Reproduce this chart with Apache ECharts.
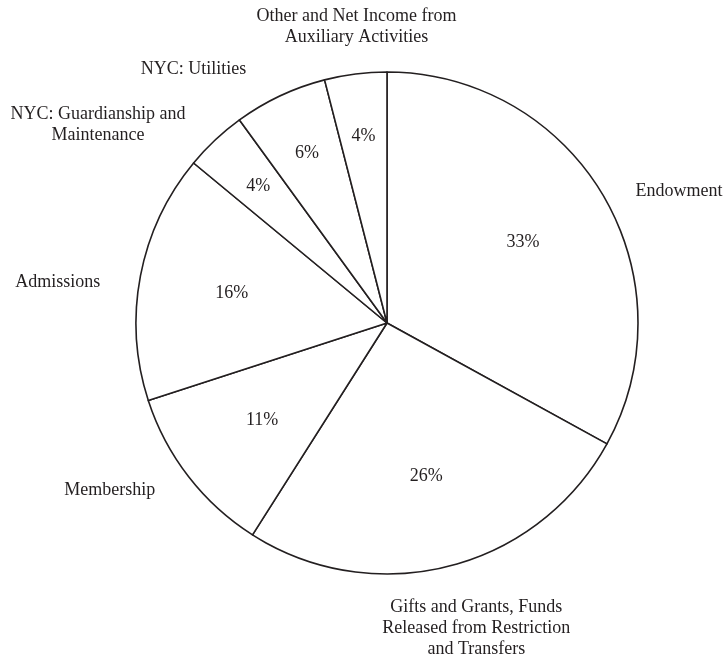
<!DOCTYPE html>
<html>
<head>
<meta charset="utf-8">
<script src="https://cdn.jsdelivr.net/npm/echarts@6/dist/echarts.min.js"></script>
<style>
  html, body { margin: 0; padding: 0; background: #fff; }
  #pie { width: 725px; height: 656px; }
</style>
</head>
<body>
<div id="pie"></div>
<script>
    // slices, clockwise from 12 o'clock
    var categories = [
        'Endowment',
        'Gifts and Grants, Funds\nReleased from Restriction\nand Transfers',
        'Membership',
        'Admissions',
        'NYC: Guardianship and\nMaintenance',
        'NYC: Utilities',
        'Other and Net Income from\nAuxiliary Activities'
    ];
    var shares = [33, 26, 11, 16, 4, 6, 4];

    // which percent labels sit further out (the narrow slices)
    var outerPct = [false, false, false, false, true, true, true];

    // nudges for the category labels, px
    var nameNudge = [[14, 33], [9, -8], [-22, -31], [-12, 20], [-68, 37], [-56, 39], [10, 24]];

    var ink = '#231f20';
    var font = '"Liberation Serif", "DejaVu Serif", serif';
    var cx = 387, cy = 323, R = 251;

    function items(showFn) {
        return categories.map(function (name, i) {
            return {
                name: name,
                value: shares[i],
                label: { show: showFn(i) }
            };
        });
    }

    var hidden = { color: 'transparent', borderWidth: 0 };

    var myChart = echarts.init(document.getElementById('pie'));
    var option = {
        animation: false,
        series: [
            {
                type: 'pie',
                center: [cx, cy],
                radius: [0, R],
                startAngle: 90,
                clockwise: true,
                silent: true,
                itemStyle: { color: '#ffffff', borderColor: ink, borderWidth: 1.6 },
                label: { show: false },
                labelLine: { show: false },
                data: items(function () { return false; })
            },
            {
                // percentages, wide slices
                type: 'pie',
                center: [cx, cy],
                radius: [0, 310],
                startAngle: 90,
                silent: true,
                itemStyle: hidden,
                label: {
                    position: 'inside',
                    formatter: '{c}%',
                    color: ink,
                    fontFamily: font,
                    fontSize: 18
                },
                labelLine: { show: false },
                data: items(function (i) { return !outerPct[i]; })
            },
            {
                // percentages, narrow slices
                type: 'pie',
                center: [cx, cy],
                radius: [0, 370],
                startAngle: 90,
                silent: true,
                itemStyle: hidden,
                label: {
                    position: 'inside',
                    formatter: '{c}%',
                    color: ink,
                    fontFamily: font,
                    fontSize: 18
                },
                labelLine: { show: false },
                data: items(function (i) { return outerPct[i]; })
            },
            {
                // category names around the outside
                type: 'pie',
                center: [cx, cy],
                radius: [0, 640],
                startAngle: 90,
                silent: true,
                itemStyle: hidden,
                label: {
                    position: 'inside',
                    formatter: '{b}',
                    color: ink,
                    fontFamily: font,
                    fontSize: 18,
                    lineHeight: 21,
                    align: 'center'
                },
                labelLine: { show: false },
                labelLayout: function (params) {
                    var n = nameNudge[params.dataIndex];
                    return { dx: n[0], dy: n[1] };
                },
                data: items(function () { return true; })
            }
        ]
    };
    myChart.setOption(option);
</script>
</body>
</html>
